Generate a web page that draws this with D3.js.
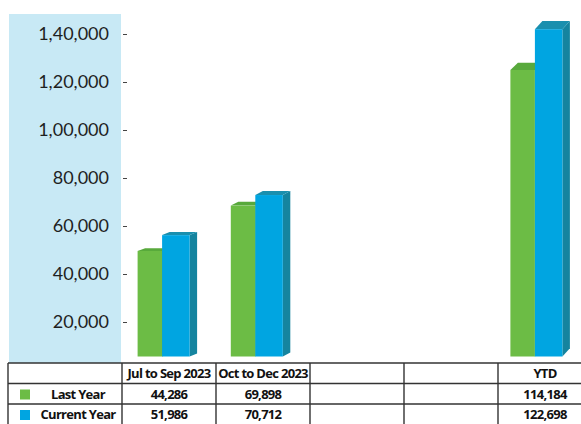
<!DOCTYPE html>
<html>
<head>
<meta charset="utf-8">
<script src="https://cdn.jsdelivr.net/npm/d3@7"></script>
<style>
  html, body { margin: 0; padding: 0; background: #fff; }
  svg { display: block; }
</style>
</head>
<body>
<div id="vis"></div>
<script>
// quarters (two blank columns are empty in the source table)
var categories = ['Jul to Sep 2023', 'Oct to Dec 2023', 'blank1', 'blank2', 'YTD'];
var headerLabels = ['Jul to Sep 2023', 'Oct to Dec 2023', '', '', 'YTD'];
var seriesNames = ['Last Year', 'Current Year'];

// bar heights as drawn against the axis
var lastYearBars = [49600, 68500, null, null, 125000];
var currentYearBars = [56200, 72900, null, null, 142000];

// figures printed in the table
var lastYearTable = ['44,286', '69,898', '', '', '114,184'];
var currentYearTable = ['51,986', '70,712', '', '', '122,698'];

var yTicks = [20000, 40000, 60000, 80000, 100000, 120000, 140000];

var width = 581, height = 424;
var plotBottom = 356.5, tableTop = 363, rowH = 20.5;
var colors = {
  green: {front: '#6cbc45', top: '#58a93c', side: '#4f9a35'},
  blue: {front: '#00a5e1', top: '#1a8fae', side: '#15849f'}
};

var inr = d3.formatLocale({decimal: '.', thousands: ',', grouping: [3, 2], currency: ['', '']});
var fmt = inr.format(',d');

var svg = d3.select('#vis').append('svg')
    .attr('width', width)
    .attr('height', height);

var y = d3.scaleLinear()
    .domain([0, 140000])
    .range([370, 34]);

// bars sit slightly left of table columns in the source
var xBar = d3.scaleBand()
    .domain(categories)
    .range([117, 583]);

var xCol = d3.scaleBand()
    .domain(categories)
    .range([122, 592]);

// left panel behind axis labels
svg.append('rect')
    .attr('x', 9).attr('y', 14)
    .attr('width', 112).attr('height', tableTop - 14)
    .attr('fill', '#c8e9f5');

var axis = svg.append('g')
    .attr('transform', 'translate(127,0)')
    .call(d3.axisLeft(y).tickValues(yTicks).tickSize(4).tickPadding(14).tickFormat(fmt));
axis.select('.domain').remove();
axis.selectAll('line').attr('stroke', '#444');
axis.selectAll('text')
    .attr('font-family', 'Lato, sans-serif')
    .attr('font-size', 18)
    .attr('fill', '#1f1f1f');

var greenW = 24.5, blueW = 27.5, dx = 7.5;

function bar3d(g, x0, w, v, c) {
  var yt = y(v);
  var dy = 0.025 * (plotBottom - yt);
  var x1 = x0 + w;
  g.append('polygon')
      .attr('points', [[x1, yt], [x1 + dx, yt - dy], [x1 + dx, plotBottom - dy], [x1, plotBottom]].join(' '))
      .attr('fill', c.side);
  g.append('polygon')
      .attr('points', [[x0, yt], [x0 + dx, yt - dy], [x1 + dx, yt - dy], [x1, yt]].join(' '))
      .attr('fill', c.top);
  g.append('rect')
      .attr('x', x0).attr('y', yt)
      .attr('width', w).attr('height', plotBottom - yt)
      .attr('fill', c.front);
}

var bars = svg.append('g');
categories.forEach(function(cat, i) {
  if (lastYearBars[i] == null) return;
  var cx = xBar(cat) + xBar.bandwidth() / 2;
  var left = cx - (greenW + blueW) / 2;
  bar3d(bars, left, greenW, lastYearBars[i], colors.green);
  bar3d(bars, left + greenW, blueW, currentYearBars[i], colors.blue);
});

// data table
var table = svg.append('g');
var lineColor = '#333';
for (var r = 0; r < 3; r++) {
  table.append('line')
      .attr('x1', 8).attr('x2', width)
      .attr('y1', tableTop + r * rowH).attr('y2', tableTop + r * rowH)
      .attr('stroke', lineColor).attr('stroke-width', 1.4);
}
var vx = [8].concat(categories.map(function(c) { return xCol(c); }));
vx.forEach(function(x) {
  table.append('line')
      .attr('x1', x).attr('x2', x)
      .attr('y1', tableTop).attr('y2', height)
      .attr('stroke', lineColor).attr('stroke-width', 1.4);
});

function cellText(x, row, txt) {
  table.append('text')
      .attr('x', x)
      .attr('y', tableTop + row * rowH + rowH / 2 + 5)
      .attr('text-anchor', 'middle')
      .attr('font-family', '"Open Sans", sans-serif')
      .attr('font-weight', 700)
      .attr('font-size', 13)
      .attr('letter-spacing', -0.7)
      .attr('fill', '#111')
      .text(txt);
}

categories.forEach(function(cat, i) {
  var cx = xCol(cat) + xCol.bandwidth() / 2;
  cellText(cx, 0, headerLabels[i]);
  cellText(cx, 1, lastYearTable[i]);
  cellText(cx, 2, currentYearTable[i]);
});

[colors.green.front, colors.blue.front].forEach(function(col, i) {
  table.append('rect')
      .attr('x', 20).attr('y', tableTop + (i + 1) * rowH + 6)
      .attr('width', 10).attr('height', 10)
      .attr('fill', col);
  cellText(78, i + 1, seriesNames[i]);
});
</script>
</body>
</html>
